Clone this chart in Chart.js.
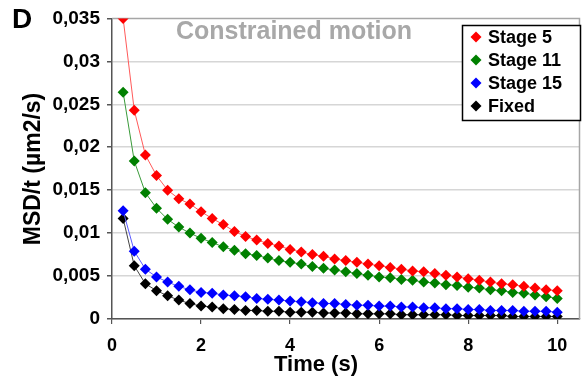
<!DOCTYPE html>
<html>
<head>
<meta charset="utf-8">
<script src="https://cdn.jsdelivr.net/npm/chart.js@4.4.1/dist/chart.umd.min.js"></script>
<style>
  html, body { margin: 0; padding: 0; background: #fff; }
  #wrap { width: 585px; height: 377px; position: relative; }
</style>
</head>
<body>
<div id="wrap"><canvas id="msd"></canvas></div>
<script>
// MSD/t vs time, constrained motion (panel D)

var timeS = [0.25, 0.5, 0.75, 1, 1.25, 1.5, 1.75, 2, 2.25, 2.5,
  2.75, 3, 3.25, 3.5, 3.75, 4, 4.25, 4.5, 4.75, 5,
  5.25, 5.5, 5.75, 6, 6.25, 6.5, 6.75, 7, 7.25, 7.5,
  7.75, 8, 8.25, 8.5, 8.75, 9, 9.25, 9.5, 9.75, 10];

var stage5 = [0.0350, 0.0243, 0.0191, 0.0167, 0.0150, 0.0140, 0.0134, 0.0125, 0.0117, 0.0110,
  0.0102, 0.0096, 0.0092, 0.0088, 0.0085, 0.0081, 0.0078, 0.0075, 0.0073, 0.0070,
  0.0068, 0.0066, 0.0064, 0.0062, 0.0060, 0.0058, 0.0056, 0.0055, 0.0053, 0.0051,
  0.0049, 0.0047, 0.0045, 0.0043, 0.0041, 0.0040, 0.0038, 0.0036, 0.0034, 0.0033];

var stage11 = [0.0264, 0.0184, 0.0147, 0.0129, 0.0116, 0.0107, 0.0100, 0.0094, 0.0089, 0.0084,
  0.0080, 0.0076, 0.0074, 0.0071, 0.0068, 0.0066, 0.0064, 0.0061, 0.0059, 0.0057,
  0.0055, 0.0053, 0.0051, 0.0049, 0.0048, 0.0046, 0.0045, 0.0043, 0.0042, 0.0040,
  0.0039, 0.0037, 0.0036, 0.0034, 0.0033, 0.0031, 0.0030, 0.0028, 0.0026, 0.0024];

var stage15 = [0.0126, 0.0079, 0.0058, 0.0049, 0.0043, 0.0038, 0.0034, 0.0031, 0.0030, 0.0028,
  0.0027, 0.0026, 0.0024, 0.0023, 0.0022, 0.0021, 0.0020, 0.0019, 0.0018, 0.0018,
  0.0017, 0.0016, 0.0016, 0.0015, 0.0015, 0.0014, 0.0014, 0.0013, 0.0013, 0.0012,
  0.0012, 0.0011, 0.0011, 0.0010, 0.0010, 0.0010, 0.0009, 0.0009, 0.0009, 0.0008];

var fixed = [0.0117, 0.0062, 0.0041, 0.0033, 0.0027, 0.0022, 0.0018, 0.0015, 0.0014, 0.0012,
  0.0011, 0.0010, 0.0010, 0.0009, 0.0009, 0.0008, 0.0008, 0.0008, 0.0007, 0.0007,
  0.0007, 0.0006, 0.0006, 0.0006, 0.0006, 0.0005, 0.0005, 0.0005, 0.0005, 0.0005,
  0.0004, 0.0004, 0.0004, 0.0004, 0.0004, 0.0003, 0.0003, 0.0003, 0.0003, 0.0003];

var seriesNames = ['Stage 5', 'Stage 11', 'Stage 15', 'Fixed'];
var xTicks = [0, 2, 4, 6, 8, 10];

var FONT = "'Liberation Sans', Arial, sans-serif";
var COLORS = {
  red: '#ff0000', redLine: '#ff5a5a',
  green: '#008000', greenLine: '#3a9a3a',
  blue: '#0000ff', blueLine: '#5a5aff',
  black: '#000000', blackLine: '#444444'
};

function toPoints(ys) {
  return timeS.map(function (t, i) { return { x: t, y: ys[i] }; });
}

function makeSet(label, ys, color, lineColor) {
  return {
    label: label,
    data: toPoints(ys),
    borderColor: lineColor,
    borderWidth: 1,
    backgroundColor: color,
    pointStyle: 'rectRot',
    pointRadius: 5.5,
    pointBackgroundColor: color,
    pointBorderColor: color,
    pointBorderWidth: 0,
    tension: 0
  };
}

function diamond(ctx, x, y, r, color) {
  ctx.beginPath();
  ctx.moveTo(x - r, y);
  ctx.lineTo(x, y - r);
  ctx.lineTo(x + r, y);
  ctx.lineTo(x, y + r);
  ctx.closePath();
  ctx.fillStyle = color;
  ctx.fill();
}

// plot frame (top/right) drawn under the data
var framePlugin = {
  id: 'frame',
  beforeDatasetsDraw: function (chart) {
    var a = chart.chartArea, ctx = chart.ctx;
    ctx.save();
    ctx.strokeStyle = '#a6a6a6';
    ctx.lineWidth = 1.5;
    ctx.beginPath();
    ctx.moveTo(a.left, a.top);
    ctx.lineTo(a.right, a.top);
    ctx.lineTo(a.right, a.bottom);
    ctx.stroke();
    ctx.restore();
  }
};

// texts and legend box
var decorPlugin = {
  id: 'decor',
  afterDraw: function (chart) {
    var ctx = chart.ctx;
    ctx.save();

    ctx.fillStyle = '#000';
    ctx.font = 'bold 28px ' + FONT;
    ctx.textAlign = 'left';
    ctx.textBaseline = 'alphabetic';
    ctx.fillText('D', 12, 28);

    ctx.fillStyle = '#a8a8a8';
    ctx.font = 'bold 25px ' + FONT;
    ctx.textAlign = 'center';
    ctx.fillText('Constrained motion', 294, 39);

    ctx.fillStyle = '#000';
    ctx.font = 'bold 22px ' + FONT;
    ctx.fillText('Time (s)', 316, 371);

    ctx.save();
    ctx.translate(40, 169);
    ctx.rotate(-Math.PI / 2);
    ctx.font = 'bold 23px ' + FONT;
    ctx.textBaseline = 'alphabetic';
    ctx.fillText('MSD/t (\u00b5m2/s)', 0, 0);
    ctx.restore();

    // legend
    ctx.fillStyle = '#fff';
    ctx.fillRect(462, 25, 119, 96);
    ctx.strokeStyle = '#000';
    ctx.lineWidth = 1.5;
    ctx.strokeRect(462.5, 25.5, 118, 95);
    ctx.font = 'bold 18px ' + FONT;
    ctx.textAlign = 'left';
    ctx.textBaseline = 'middle';
    chart.data.datasets.forEach(function (ds, i) {
      var y = 37 + i * 23;
      diamond(ctx, 476, y, 5.5, ds.pointBackgroundColor);
      ctx.fillStyle = '#000';
      ctx.fillText(ds.label, 488, y + 1);
    });

    ctx.restore();
  }
};

new Chart(document.getElementById('msd'), {
  type: 'line',
  data: {
    datasets: [
      makeSet(seriesNames[0], stage5, COLORS.red, COLORS.redLine),
      makeSet(seriesNames[1], stage11, COLORS.green, COLORS.greenLine),
      makeSet(seriesNames[2], stage15, COLORS.blue, COLORS.blueLine),
      makeSet(seriesNames[3], fixed, COLORS.black, COLORS.blackLine)
    ]
  },
  options: {
    responsive: true,
    maintainAspectRatio: false,
    animation: false,
    layout: { padding: { top: 15, right: 3, left: 0, bottom: 0 } },
    plugins: {
      legend: { display: false },
      tooltip: { enabled: false }
    },
    scales: {
      x: {
        type: 'linear',
        min: 0,
        max: 10.5,
        afterBuildTicks: function (scale) {
          scale.ticks = xTicks.map(function (v) { return { value: v }; });
        },
        afterFit: function (scale) { scale.height = 58; },
        grid: {
          drawOnChartArea: false,
          drawTicks: true,
          tickLength: 5,
          tickColor: '#555',
          lineWidth: 1.2
        },
        border: { display: true, color: '#555', width: 1.5 },
        ticks: {
          padding: 11,
          color: '#000',
          font: { family: FONT, size: 18, weight: 'bold' },
          callback: function (v) { return String(v); }
        }
      },
      y: {
        min: 0,
        max: 0.035,
        afterFit: function (scale) { scale.width = 112; },
        grid: {
          color: function (c) {
            return c.tick && c.tick.value >= 0.035 ? 'rgba(0,0,0,0)' : '#d6d6d6';
          },
          lineWidth: 1.5,
          drawTicks: true,
          tickLength: 5,
          tickColor: '#555'
        },
        border: { display: true, color: '#555', width: 1.5 },
        ticks: {
          stepSize: 0.005,
          padding: 7,
          color: '#000',
          font: { family: FONT, size: 19, weight: 'bold' },
          callback: function (v) {
            if (v === 0) return '0';
            return String(+v.toFixed(3)).replace('.', ',');
          }
        }
      }
    }
  },
  plugins: [framePlugin, decorPlugin]
});
</script>
</body>
</html>
